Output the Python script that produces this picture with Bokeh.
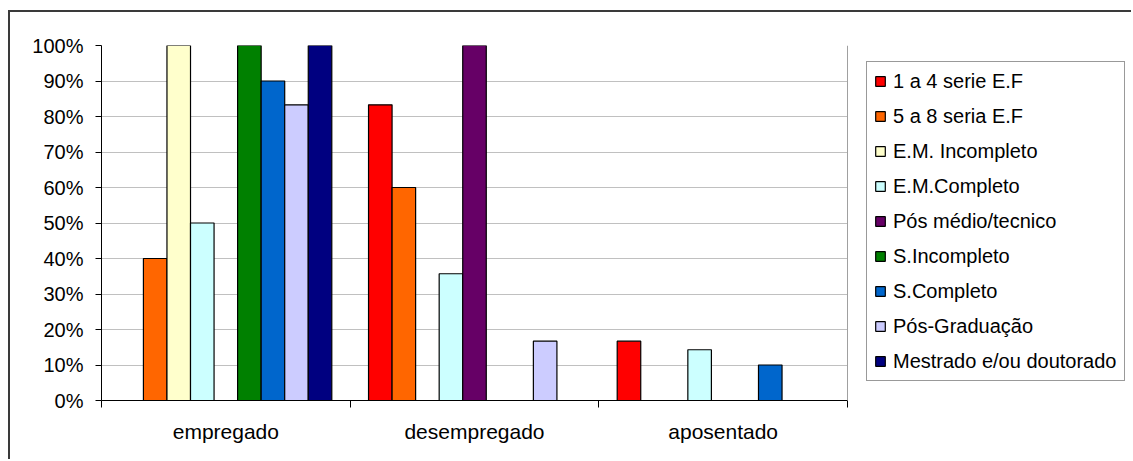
from bokeh.plotting import figure
from bokeh.models import (FixedTicker, Legend, LegendItem, Range1d,
                          ColumnDataSource, Span)
from bokeh.embed import file_html
from bokeh.resources import INLINE

categories = ["empregado", "desempregado", "aposentado"]
series_names = ["1 a 4 serie E.F", "5 a 8 seria E.F", "E.M. Incompleto",
                "E.M.Completo", "Pós médio/tecnico", "S.Incompleto",
                "S.Completo", "Pós-Graduação", "Mestrado e/ou doutorado"]
s_1a4 = [0, 83.3, 16.7]
s_5a8 = [40, 60, 0]
s_em_inc = [100, 0, 0]
s_em_comp = [50, 35.7, 14.3]
s_pos_medio = [0, 100, 0]
s_sup_inc = [100, 0, 0]
s_sup_comp = [90, 0, 10]
s_pos_grad = [83.3, 16.7, 0]
s_mestrado = [100, 0, 0]
series_values = [s_1a4, s_5a8, s_em_inc, s_em_comp, s_pos_medio,
                 s_sup_inc, s_sup_comp, s_pos_grad, s_mestrado]
colors = ["#FF0000", "#FF6600", "#FFFFCC", "#CCFFFF", "#660066",
          "#008000", "#0066CC", "#CCCCFF", "#000080"]
y_ticks = [0, 10, 20, 30, 40, 50, 60, 70, 80, 90, 100]

FONT = "Liberation Sans"
bar_w = 0.0947
n = len(series_names)
ncat = len(categories)

# frame: plot area is 746 px wide for the 3 categories; frame extends to the
# right edge so that the legend (drawn inside the frame) is not clipped
canvas_w, canvas_h = 1123, 449
left_b = 91
frame_w = canvas_w - left_b
x_end = ncat * frame_w / 746.0

p = figure(width=canvas_w, height=canvas_h, x_range=Range1d(0, x_end),
           y_range=Range1d(0, 100),
           output_backend="svg", toolbar_location=None,
           min_border_left=left_b, min_border_right=0, min_border_top=33,
           min_border_bottom=61)
p.margin = (10, 0, 0, 8)
p.styles = {"border-left": "2px solid #3a3a3a", "border-top": "2px solid #3a3a3a"}
p.outline_line_color = None
p.background_fill_color = "white"
p.border_fill_color = "white"

p.xgrid.visible = False
p.ygrid.grid_line_color = "#c0c0c0"
p.ygrid.ticker = FixedTicker(ticks=y_ticks)
p.ygrid.cross_bounds = (0, ncat)

p.add_layout(Span(location=ncat, dimension="height", line_color="#a0a0a0",
                  line_width=1))

items = []
for k, (name, vals, col) in enumerate(zip(series_names, series_values, colors)):
    xs, tops = [], []
    for ci, v in enumerate(vals):
        if v > 0:
            xs.append(ci + 0.5 + (k - (n - 1) / 2) * bar_w)
            tops.append(v)
    src = ColumnDataSource(dict(x=xs, top=tops))
    r = p.vbar(x="x", top="top", bottom=0, width=bar_w, source=src,
               fill_color=col, line_color="black", line_width=1.2)
    items.append(LegendItem(label=name, renderers=[r]))

legend = Legend(items=items, location=(765, 19), orientation="vertical",
                label_text_font=FONT, label_text_font_size="20px",
                label_text_color="black", label_height=24, glyph_height=12,
                glyph_width=12, spacing=11, padding=7, label_standoff=7,
                border_line_color="#333333", border_line_width=1,
                background_fill_color="white", background_fill_alpha=1)
p.add_layout(legend, "center")

p.yaxis.ticker = FixedTicker(ticks=y_ticks)
p.yaxis.major_label_overrides = {t: f"{t}%" for t in y_ticks}
p.yaxis.major_label_text_font = FONT
p.yaxis.major_label_text_font_size = "20px"
p.yaxis.major_label_text_color = "black"
p.yaxis.major_tick_out = 6
p.yaxis.major_tick_in = 0
p.yaxis.minor_tick_line_color = None
p.yaxis.major_label_standoff = 12
p.yaxis.axis_line_color = "black"
p.yaxis.major_tick_line_color = "black"

p.xaxis.ticker = FixedTicker(ticks=[0.5, 1.5, 2.5], minor_ticks=[0, 1, 2, 3])
p.xaxis.bounds = (0, ncat)
p.xaxis.major_label_overrides = {0.5: categories[0], 1.5: categories[1], 2.5: categories[2]}
p.xaxis.major_label_text_font = FONT
p.xaxis.major_label_text_font_size = "21px"
p.xaxis.major_label_text_color = "black"
p.xaxis.major_tick_out = 0
p.xaxis.major_tick_in = 0
p.xaxis.minor_tick_out = 7
p.xaxis.minor_tick_in = 0
p.xaxis.minor_tick_line_color = "black"
p.xaxis.axis_line_color = "black"
p.xaxis.major_label_standoff = 12

open("out.html", "w").write(file_html(p, INLINE))
